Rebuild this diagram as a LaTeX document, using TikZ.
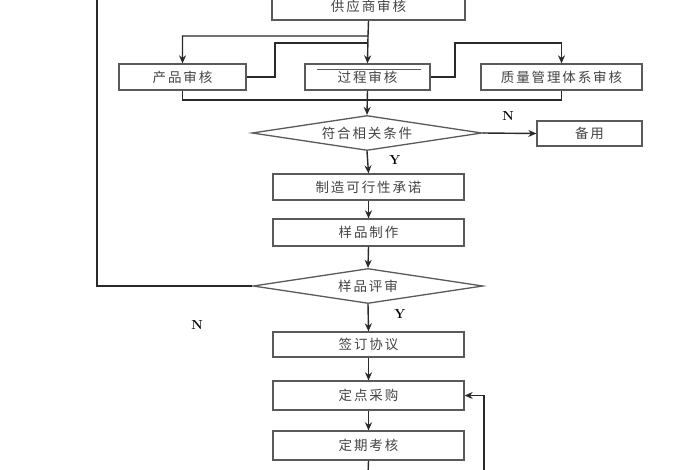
\documentclass[tikz,border=0pt]{standalone}
\usepackage{fontspec}
\newfontfamily\cjk[LetterSpace=14]{Noto Sans CJK SC}
\usetikzlibrary{shapes.geometric,arrows.meta}
\definecolor{ln}{HTML}{2A2A2A}
\definecolor{bd}{HTML}{5A5A5A}
\definecolor{tx}{HTML}{444444}
\begin{document}
\begin{tikzpicture}[x=1pt,y=-1pt,
  box/.style={draw=bd,line width=1.3pt,fill=white,rectangle,inner sep=0pt,
    minimum height=26pt,font=\cjk\fontsize{13.5}{15}\selectfont,text=tx},
  dia/.style={draw=bd,line width=1.3pt,fill=white,diamond,inner sep=0pt,aspect=6.6,
    minimum width=230pt,minimum height=35pt,font=\cjk\fontsize{13.5}{15}\selectfont,text=tx},
  conn/.style={draw=ln,line width=1.4pt},
  arr/.style={conn,-{Stealth[length=8pt,width=7pt]}},
  lbl/.style={font=\bfseries\fontsize{13}{15}\selectfont,text=black}]
\useasboundingbox (0,0) rectangle (700,470);
\clip (0,0) rectangle (700,470);
\fill[white] (0,0) rectangle (700,470);

% nodes
\node[box,minimum width=193pt,minimum height=28pt] (sup) at (368.5,6) {供应商审核};
\node[box,minimum width=127pt] (prod) at (182.5,77) {产品审核};
\node[box,minimum width=125pt] (proc) at (367.5,77) {过程审核};
\node[box,minimum width=161pt] (qms) at (561.5,77) {质量管理体系审核};
\node[dia] (d1) at (367,133) {符合相关条件};
\node[box,minimum width=105pt,minimum height=25pt] (spare) at (589.5,133.5) {备用};
\node[box,minimum width=191pt] (mfg) at (368.5,187) {制造可行性承诺};
\node[box,minimum width=191pt,minimum height=27pt] (sample) at (368.5,232.5) {样品制作};
\node[dia] (d2) at (368,286) {样品评审};
\node[box,minimum width=191pt,minimum height=25pt] (sign) at (368.5,344.5) {签订协议};
\node[box,minimum width=191pt,minimum height=29pt] (fixed) at (368.5,395.5) {定点采购};
\node[box,minimum width=191pt,minimum height=29pt] (period) at (368.5,445.5) {定期考核};

% labels
\node[lbl] (n1) at (508,116) {N};
\node[lbl] (y1) at (395,160) {Y};
\node[lbl] (y2) at (400,314) {Y};
\node[lbl] (n2) at (197,325) {N};

% coordinates
\coordinate (j1) at (368,36);
\coordinate (k1) at (275,43);
\coordinate (k2) at (455,43);
\coordinate (k3) at (183,100);
\coordinate (lt) at (97,-5);
\coordinate (bot) at (368,475);
\coordinate (rb) at (484,475);

% decoration in process box
\draw[draw=bd,line width=0.9pt] ([xshift=13pt,yshift=8pt]proc.west) -- ([xshift=-10pt,yshift=8pt]proc.east);

% connectors
\draw[arr] (sup.south) -- (j1) -| (prod.north);
\draw[arr] (j1) -- (proc.north);
\draw[conn] (prod.east) -| (k1) -- (k1 -| proc.north);
\draw[arr] (proc.east) -| (k2) -| (qms.north);
\draw[conn] (prod.south) |- (k3 -| qms.south) -- (qms.south);
\draw[arr] (proc.south) -- (d1.north);
\draw[arr] (d1.east) -- (spare.west);
\draw[arr] (d1.south) -- (mfg.north);
\draw[arr] (mfg.south) -- (sample.north);
\draw[arr] (sample.south) -- (d2.north);
\draw[conn] (d2.west) -| (lt);
\draw[arr] (d2.south) -- (sign.north);
\draw[arr] (sign.south) -- (fixed.north);
\draw[arr] (fixed.south) -- (period.north);
\draw[conn] (period.south) -- (bot);
\draw[arr] (rb) |- (fixed.east);
\end{tikzpicture}
\end{document}
